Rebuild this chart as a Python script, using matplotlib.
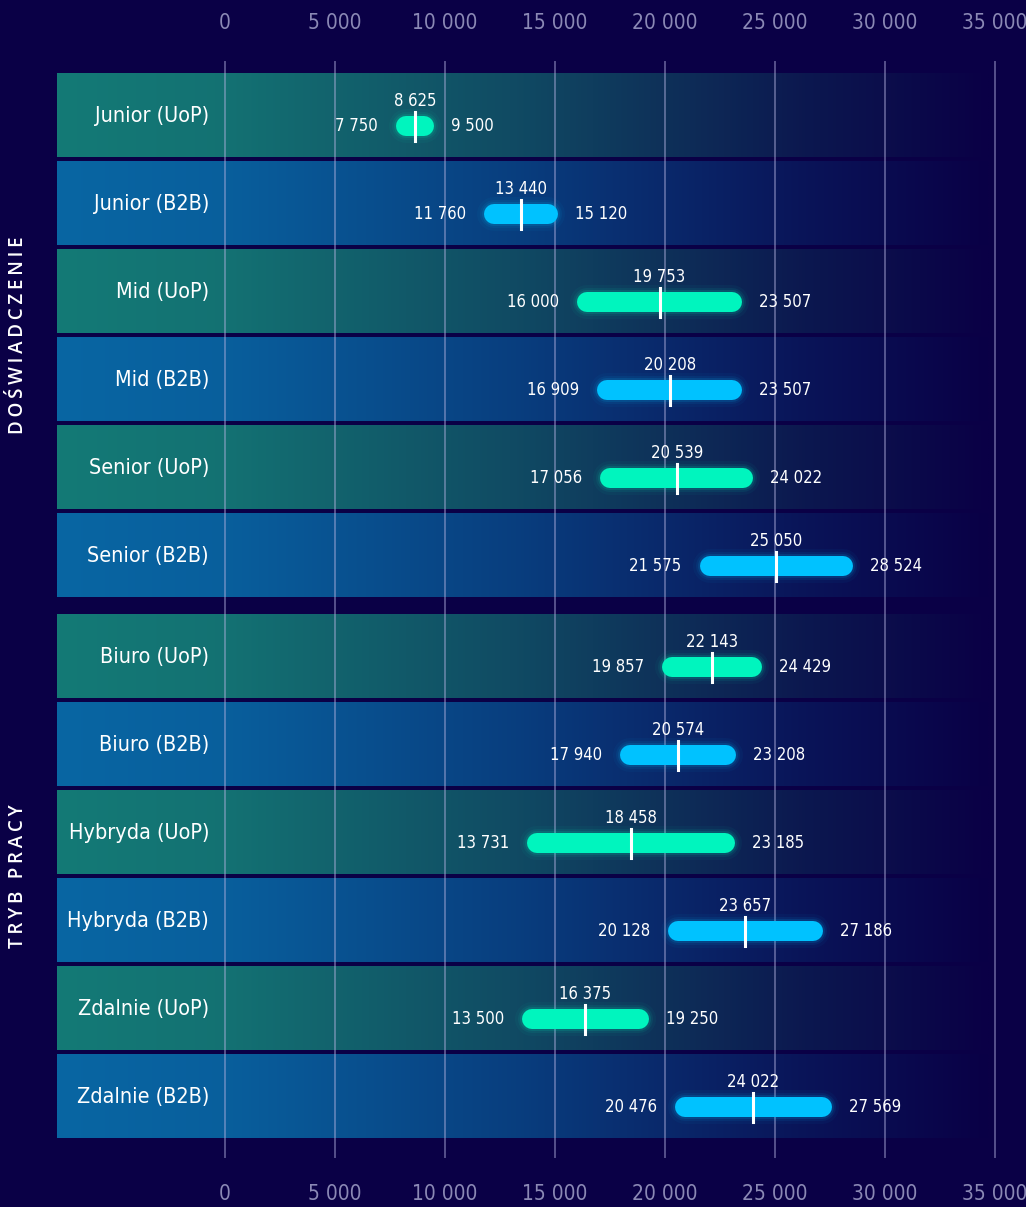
import matplotlib
matplotlib.use("Agg")
import matplotlib.pyplot as plt
import numpy as np
from matplotlib.colors import to_rgb

# ---------------- data ----------------
categories = ["Junior (UoP)", "Junior (B2B)", "Mid (UoP)", "Mid (B2B)",
              "Senior (UoP)", "Senior (B2B)", "Biuro (UoP)", "Biuro (B2B)",
              "Hybryda (UoP)", "Hybryda (B2B)", "Zdalnie (UoP)", "Zdalnie (B2B)"]
contract = ["UoP", "B2B"] * 6
low_vals = [7750, 11760, 16000, 16909, 17056, 21575, 19857, 17940, 13731, 20128, 13500, 20476]
median_vals = [8625, 13440, 19753, 20208, 20539, 25050, 22143, 20574, 18458, 23657, 16375, 24022]
high_vals = [9500, 15120, 23507, 23507, 24022, 28524, 24429, 23208, 23185, 27186, 19250, 27569]
groups = ["DOŚWIADCZENIE", "TRYB PRACY"]
group_rows = [(0, 5), (6, 11)]
tick_values = [0, 5000, 10000, 15000, 20000, 25000, 30000, 35000]

# ---------------- style ----------------
BG = "#0a0046"
BAND_LEFT = {"UoP": "#147a76", "B2B": "#0866a3"}
BAR_COL = {"UoP": "#00f5be", "B2B": "#00c2ff"}
TICK_COL = "#8b89b5"
FONT = ["DejaVu Sans Condensed", "Liberation Sans Narrow", "DejaVu Sans"]
FKW = dict(family=FONT, fontstretch="condensed")

W, H = 1026, 1207
fig = plt.figure(figsize=(W / 100, H / 100), dpi=100, facecolor=BG)
ax = fig.add_axes([0, 0, 1, 1])
ax.set_facecolor(BG)
PX = 1000 / 22.0  # data units per pixel horizontally
X0 = 225
ax.set_xlim(-X0 * PX, (W - X0) * PX)
ax.set_ylim(H, 0)
ax.axis("off")

def px2x(p):
    return (p - X0) * PX

band_h = 84
row_top = [73 + 88 * i + (13 if i >= 6 else 0) for i in range(len(categories))]

# gradient bands
band_x0, band_x1 = px2x(57), px2x(988)
N = 600
t = np.linspace(0, 1, N)
bg = np.array(to_rgb(BG))
def grad(left_hex):
    left = np.array(to_rgb(left_hex))
    stops_t = [0.0, 0.18, 0.5, 0.8, 1.0]
    mid1 = left * 0.93 + bg * 0.07
    mid2 = left * 0.60 + bg * 0.40
    mid3 = left * 0.20 + bg * 0.80
    cols = np.array([left, mid1, mid2, mid3, bg])
    out = np.stack([np.interp(t, stops_t, cols[:, c]) for c in range(3)], axis=-1)
    return out[None, :, :]

grads = {k: grad(v) for k, v in BAND_LEFT.items()}
for i, c in enumerate(contract):
    top = row_top[i]
    ax.imshow(grads[c], extent=[band_x0, band_x1, top + band_h, top],
              aspect="auto", interpolation="bilinear", zorder=1)

# grid lines
for v in tick_values:
    ax.plot([v, v], [62, 1157], color="#b4b2e0", alpha=0.45, lw=1.4, zorder=2)

# tick labels top and bottom
for v in tick_values:
    lab = f"{v:,}".replace(",", " ")
    ax.text(v, 23, lab, ha="center", va="center", color=TICK_COL,
            fontsize=15, zorder=5, **FKW)
    ax.text(v, 1194, lab, ha="center", va="center", color=TICK_COL,
            fontsize=15, zorder=5, **FKW)

# bars
bar_h_px = 20
lw_pt = bar_h_px * 72 / 100
half = (bar_h_px / 2) * PX
fmt = lambda v: f"{v:,}".replace(",", " ")
for i, cat in enumerate(categories):
    top = row_top[i]
    yc = top + band_h / 2
    yb = yc + 11
    col = BAR_COL[contract[i]]
    lo, md, hi = low_vals[i], median_vals[i], high_vals[i]
    # glow
    for k, a in [(7, 0.04), (4, 0.07), (2, 0.12)]:
        ax.plot([lo + half, hi - half], [yb, yb], color=col, alpha=a,
                lw=lw_pt + k * 72 / 100 * 2, solid_capstyle="round", zorder=3)
    ax.plot([lo + half, hi - half], [yb, yb], color=col, lw=lw_pt,
            solid_capstyle="round", zorder=4)
    # median
    ax.plot([md, md], [yb - 14, yb + 15], color="white", lw=2.2, zorder=5)
    ax.text(md, yc - 14, fmt(md), ha="center", va="center", color="white",
            fontsize=12, zorder=6, **FKW)
    ax.text(lo - 18 * PX, yb, fmt(lo), ha="right", va="center", color="white",
            fontsize=12, zorder=6, **FKW)
    ax.text(hi + 17 * PX, yb, fmt(hi), ha="left", va="center", color="white",
            fontsize=12, zorder=6, **FKW)
    # category label
    ax.text(px2x(209), yc + 1, cat, ha="right", va="center", color="white",
            fontsize=15.5, zorder=6, **FKW)

# group labels
for g, (a, b) in zip(groups, group_rows):
    ymid = (row_top[a] + row_top[b] + band_h) / 2
    spaced = "\u2009".join(g)
    ax.text(px2x(18), ymid, spaced, rotation=90, ha="center", va="center",
            color="white", fontsize=13.5, fontweight="semibold",
            family=["Open Sans", "DejaVu Sans"], zorder=6)

fig.savefig("out.png", dpi=100, facecolor=BG)
